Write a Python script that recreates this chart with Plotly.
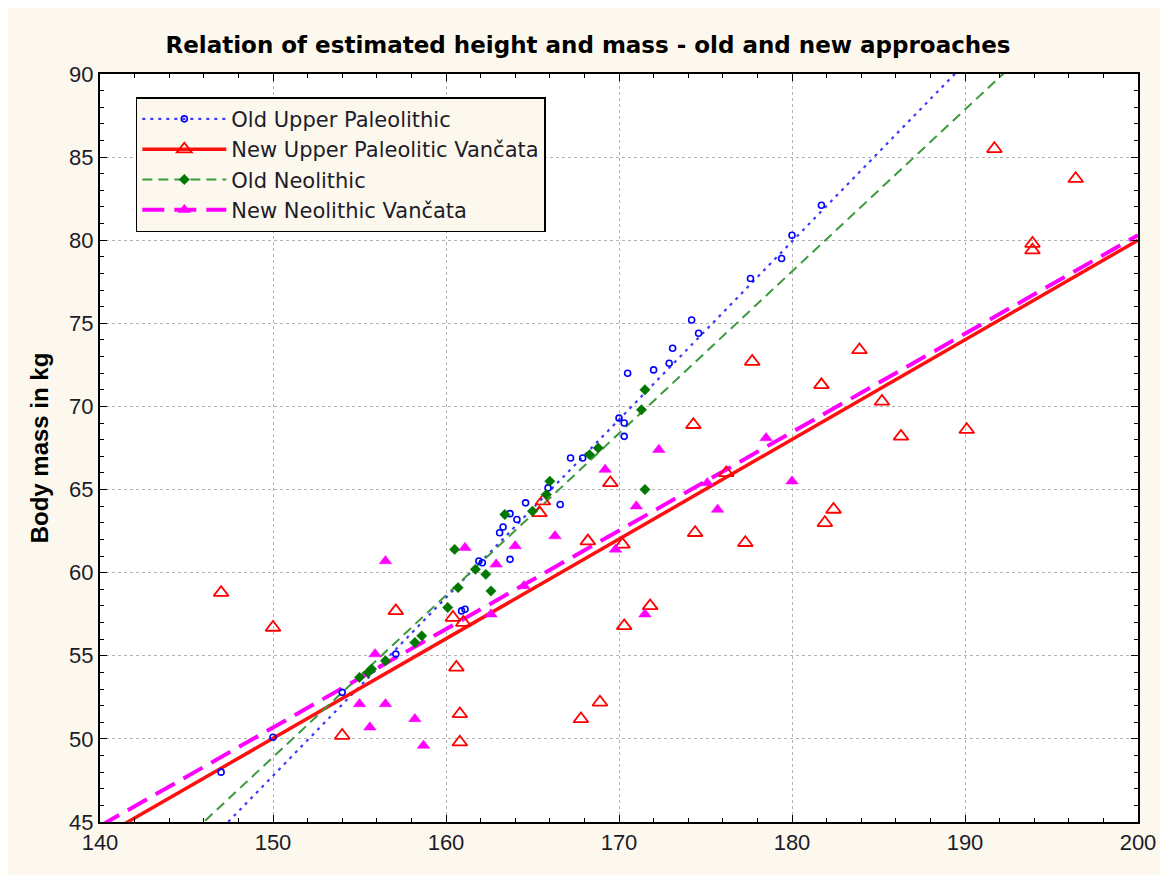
import plotly.graph_objects as go

# Data (height in cm, mass in kg)
old_up_height = [147.0, 150.0, 154.0, 157.1, 160.9, 161.1, 161.9, 162.1, 163.7, 163.1,
                 163.3, 163.7, 164.1, 164.6, 165.9, 166.6, 167.2, 167.9, 170.0, 170.3,
                 170.3, 170.5, 172.0, 172.9, 173.1, 174.2, 174.6, 177.6, 179.4, 180.0, 181.7]
old_up_mass = [48.0, 50.1, 52.8, 55.1, 57.7, 57.8, 60.7, 60.6, 60.8, 62.4,
               62.75, 63.55, 63.2, 64.2, 65.1, 64.1, 66.9, 66.9, 69.3, 69.0,
               68.2, 72.0, 72.2, 72.6, 73.5, 75.2, 74.4, 77.7, 78.9, 80.3, 82.1]

new_up_height = [147.0, 150.0, 154.0, 157.1, 160.4, 161.0, 160.6, 160.8, 160.8, 165.4,
                 165.6, 167.8, 168.9, 168.2, 169.5, 170.2, 170.3, 171.8, 174.3, 174.4,
                 176.2, 177.3, 177.7, 181.7, 181.9, 182.4, 183.9, 185.2, 186.3, 190.1,
                 191.7, 193.9, 193.9, 196.4]
new_up_mass = [58.8, 56.7, 50.2, 57.7, 57.3, 57.0, 54.3, 51.5, 49.8, 63.6,
               64.3, 51.2, 52.2, 61.9, 65.4, 61.7, 56.8, 58.0, 68.9, 62.4,
               66.0, 61.8, 72.7, 71.3, 63.0, 63.8, 73.4, 70.3, 68.2, 68.6,
               85.5, 79.8, 79.4, 83.7]

old_neo_height = [155.0, 155.5, 155.7, 156.5, 158.2, 158.6, 160.1, 160.5, 160.7, 161.7,
                  162.3, 162.6, 163.4, 165.0, 165.8, 166.0, 168.3, 168.8, 171.3, 171.5, 171.5]
old_neo_mass = [53.7, 54.0, 54.2, 54.7, 55.8, 56.2, 57.9, 61.4, 59.1, 60.2,
                59.9, 58.9, 63.5, 63.7, 64.7, 65.5, 67.1, 67.5, 69.8, 71.0, 65.0]

new_neo_height = [155.0, 155.6, 155.9, 156.5, 156.5, 158.2, 158.7, 161.1, 162.6, 162.9,
                  164.0, 164.5, 166.3, 169.2, 169.8, 171.0, 171.5, 172.3, 175.1, 175.7,
                  178.5, 180.0]
new_neo_mass = [52.1, 50.7, 55.1, 52.1, 60.7, 51.2, 49.6, 61.5, 57.5, 60.5,
                61.6, 59.2, 62.2, 66.2, 61.4, 64.0, 57.5, 67.4, 65.4, 63.8,
                68.1, 65.5]

# Fitted lines, read at the two ends of the x axis
fit_x = [140, 200]
old_up_fit = [37.07, 101.35]
new_up_fit = [44.04, 80.0]
old_neo_fit = [39.16, 97.6]
new_neo_fit = [44.76, 80.3]

names = ["Old Upper Paleolithic", "New Upper Paleolitic Vančata",
         "Old Neolithic", "New Neolithic Vančata"]

CREAM = "#fdf8ed"
FONT = "Liberation Sans, Arial, sans-serif"
TEXT = "#1c1c2a"

series = [
    (names[0], old_up_height, old_up_mass, old_up_fit,
     dict(symbol="circle-open", size=6, color="#0000ff", line=dict(width=1.6, color="#0000ff")),
     dict(color="#3a3aff", width=2.2, dash="3px,5px")),
    (names[1], new_up_height, new_up_mass, new_up_fit,
     dict(symbol="triangle-up-open", size=13, color="#ff0000", line=dict(width=1.8, color="#ff0000")),
     dict(color="#ff1010", width=3.5, dash="solid")),
    (names[2], old_neo_height, old_neo_mass, old_neo_fit,
     dict(symbol="diamond", size=8, color="#007800", line=dict(width=0.5, color="#007800")),
     dict(color="#3c9a3c", width=2, dash="10px,6px")),
    (names[3], new_neo_height, new_neo_mass, new_neo_fit,
     dict(symbol="triangle-up", size=11, color="#ff00ff", line=dict(width=0.5, color="#ff00ff")),
     dict(color="#ff00ff", width=4, dash="22px,10px")),
]

fig = go.Figure()

# fit lines first (under the points)
for name, hx, my, fit, mk, ln in series:
    fig.add_trace(go.Scatter(x=fit_x, y=fit, mode="lines", line=ln,
                             showlegend=False, hoverinfo="skip"))

for name, hx, my, fit, mk, ln in series:
    fig.add_trace(go.Scatter(x=hx, y=my, mode="markers", marker=mk,
                             name=name, showlegend=False))

# legend-only entries showing line + marker together
for name, hx, my, fit, mk, ln in series:
    fig.add_trace(go.Scatter(x=[None], y=[None], mode="lines+markers",
                             marker=mk, line=ln, name=name))

axis_common = dict(
    showline=True, linecolor="black", linewidth=2, mirror="allticks",
    ticks="inside", ticklen=7, tickcolor="black", tickwidth=1,
    showgrid=True, gridcolor="#b4b4b4", griddash="dot", gridwidth=1,
    zeroline=False,
    tickfont=dict(family=FONT, size=22, color=TEXT),
)

fig.update_xaxes(range=[140, 200], dtick=10, tick0=140,
                 minor=dict(ticks="inside", dtick=2, ticklen=4, tickcolor="black", showgrid=False),
                 **axis_common)
fig.update_yaxes(range=[45, 90], dtick=5, tick0=45,
                 minor=dict(ticks="inside", dtick=1, ticklen=4, tickcolor="black", showgrid=False),
                 title=dict(text="<b>Body mass in kg</b>", standoff=14,
                            font=dict(family=FONT, size=24, color="black")),
                 **axis_common)

fig.update_layout(
    width=1160, height=867,
    margin=dict(l=92, r=25, t=66, b=53),
    paper_bgcolor=CREAM, plot_bgcolor="white",
    title=dict(text="<b>Relation of estimated height and mass - old and new approaches</b>",
               x=0.5, xanchor="center", y=0.957, yanchor="middle",
               font=dict(family="DejaVu Sans, sans-serif", size=23, color="black")),
    legend=dict(x=0.0345, y=0.969, xanchor="left", yanchor="top",
                bgcolor=CREAM, bordercolor="black", borderwidth=1.5,
                font=dict(family="DejaVu Sans, sans-serif", size=21, color=TEXT),
                itemwidth=84, tracegroupgap=0),
    showlegend=True,
)

fig.write_html("out.html")
